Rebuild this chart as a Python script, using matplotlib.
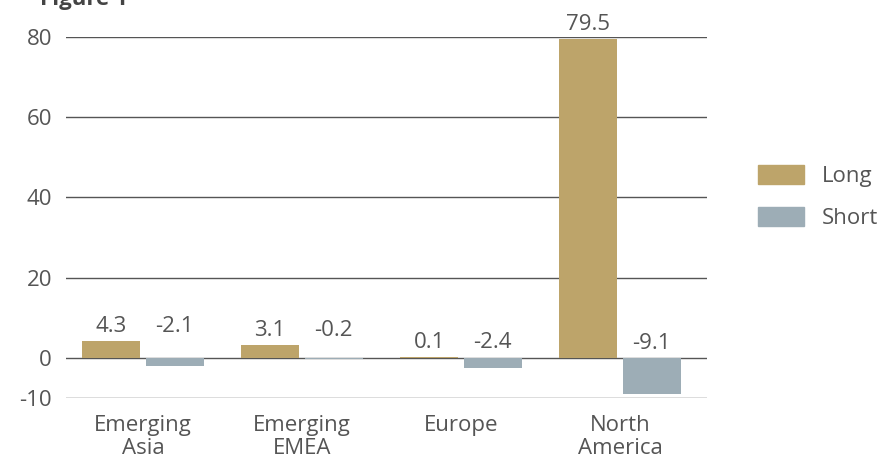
import matplotlib.pyplot as plt
import numpy as np
from matplotlib.patches import Patch

plt.rcParams['font.family'] = ['Open Sans', 'DejaVu Sans']
plt.rcParams['axes.unicode_minus'] = False

regions = ["Emerging\nAsia", "Emerging\nEMEA", "Europe", "North\nAmerica"]
long_vals = [4.3, 3.1, 0.1, 79.5]
short_vals = [-2.1, -0.2, -2.4, -9.1]
yticks = [-10, 0, 20, 40, 60, 80]

gold = "#bda46a"
slate = "#9dadb6"
txt = "#555555"
fs = 16

fig = plt.figure(figsize=(8.96, 4.66), dpi=100)
ax = fig.add_axes([66 / 896, 1 - 398 / 466, (707 - 66) / 896, (398 - 37) / 466])

x = np.arange(len(regions))
w = 0.365
ax.bar(x - 0.2, long_vals, w, color=gold)
ax.bar(x + 0.2, short_vals, w, color=slate)

# labels sit above the bar top, short labels share the level of the long label when it is low
for xi, lv, sv in zip(x, long_vals, short_vals):
    ax.text(xi - 0.2, max(lv, 0) + 1.0, f"{lv:.1f}", ha="center", va="bottom", fontsize=fs, color=txt)
    base = max(lv, 0) if lv < 20 else 0
    ax.text(xi + 0.2, base + 1.0, f"{sv:.1f}", ha="center", va="bottom", fontsize=fs, color=txt)

ax.set_xlim(-0.484, 3.547)
ax.set_ylim(-10, 80)
ax.set_yticks(yticks)
ax.set_xticks(x)
ax.set_xticklabels(regions, fontsize=fs, color=txt, linespacing=1.15)
ax.tick_params(axis="y", length=0, labelsize=fs, labelcolor=txt, pad=10)
ax.tick_params(axis="x", length=0, pad=12)
ax.yaxis.grid(True, color="#555555", linewidth=1)
ax.set_axisbelow(True)
for s in ax.spines.values():
    s.set_visible(False)

fig.text(0.045, 1.0, "Figure 1", fontsize=fs, fontweight="bold", color="#444444", va="center")

handles = [Patch(color=gold, label="Long"), Patch(color=slate, label="Short")]
fig.legend(handles=handles, loc="center left", bbox_to_anchor=(0.824, 0.577), frameon=False,
           fontsize=fs, labelcolor=txt, handlelength=2.07, handleheight=0.9, labelspacing=0.9,
           handletextpad=0.8)

fig.savefig("out.png", dpi=100)
